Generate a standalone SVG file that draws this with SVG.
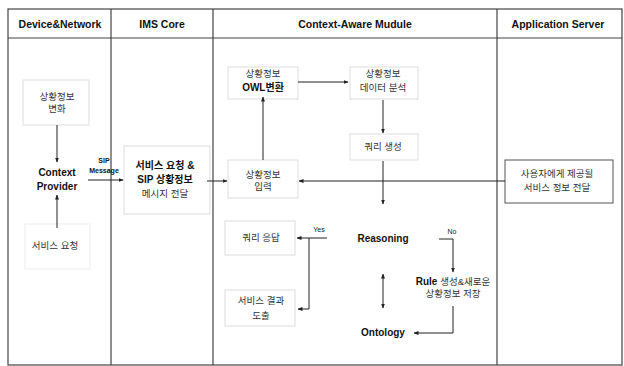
<svg xmlns="http://www.w3.org/2000/svg" width="624" height="366" viewBox="0 0 624 366">
<defs>
<marker id="ah" viewBox="0 0 10 10" refX="9" refY="5" markerWidth="5" markerHeight="5" orient="auto-start-reverse">
<path d="M0,1 L10,5 L0,9 z" fill="#222"/>
</marker>
<style>
.grid{stroke:#444;stroke-width:1.2;fill:none}
.hd{font-family:"Liberation Sans","Noto Sans CJK KR",sans-serif;font-weight:bold;font-size:10.5px;fill:#111;text-anchor:middle}
.kr{font-family:"Liberation Sans","Noto Sans CJK KR",sans-serif;font-size:9.5px;fill:#333;text-anchor:middle}
.en{font-family:"Liberation Sans","Noto Sans CJK KR",sans-serif;font-weight:bold;font-size:10px;fill:#111;text-anchor:middle}
.sm{font-family:"Liberation Sans","Noto Sans CJK KR",sans-serif;font-size:7px;fill:#222;text-anchor:middle}
.smb{font-family:"Liberation Sans","Noto Sans CJK KR",sans-serif;font-weight:bold;font-size:7px;fill:#111;text-anchor:middle}
.box{fill:#fff;stroke:#ddd;stroke-width:1}
.cn{stroke:#222;stroke-width:1;fill:none}
.ar{stroke:#222;stroke-width:1;fill:none;marker-end:url(#ah)}
</style>
</defs>
<rect width="624" height="366" fill="#fff"/>
<g id="table">
<rect class="grid" x="8" y="9" width="614" height="356"/>
<line class="grid" x1="8" y1="38" x2="622" y2="38"/>
<line class="grid" x1="111" y1="9" x2="111" y2="365"/>
<line class="grid" x1="213" y1="9" x2="213" y2="365"/>
<line class="grid" x1="497" y1="9" x2="497" y2="365"/>
<text class="hd" x="60" y="28">Device&amp;Network</text>
<text class="hd" x="162" y="28">IMS Core</text>
<text class="hd" x="355" y="28">Context-Aware Mudule</text>
<text class="hd" x="558" y="28">Application Server</text>
</g>
<g id="n-change">
<rect class="box" x="23" y="80" width="66" height="45"/>
<text class="kr" x="57" y="100">상황정보</text>
<text class="kr" x="57" y="112">변화</text>
</g>
<g id="n-provider">
<text class="en" x="57" y="176">Context</text>
<text class="en" x="57" y="190">Provider</text>
</g>
<g id="n-request">
<rect class="box" x="25" y="224" width="65" height="45" stroke-opacity="0.5"/>
<text class="kr" x="55" y="249">서비스 요청</text>
</g>
<g id="n-ims">
<rect class="box" x="124" y="146" width="86" height="68"/>
<text class="en" x="165" y="169">서비스 요청 &amp;</text>
<text class="en" x="165" y="183">SIP 상황정보</text>
<text class="kr" x="165" y="197">메시지 전달</text>
</g>
<g id="n-input">
<rect class="box" x="228" y="160" width="70" height="38"/>
<text class="kr" x="263" y="178">상황정보</text>
<text class="kr" x="263" y="190">입력</text>
</g>
<g id="n-owl">
<rect class="box" x="228" y="67" width="70" height="32"/>
<text class="kr" x="263" y="77">상황정보</text>
<text class="en" x="263" y="91">OWL변환</text>
</g>
<g id="n-analysis">
<rect class="box" x="350" y="67" width="68" height="32"/>
<text class="kr" x="383" y="77">상황정보</text>
<text class="kr" x="383" y="91">데이터 분석</text>
</g>
<g id="n-query">
<rect class="box" x="350" y="134" width="68" height="26"/>
<text class="kr" x="383" y="150">쿼리 생성</text>
</g>
<g id="n-as">
<rect x="505" y="160" width="108" height="43" fill="#fff" stroke="#555" stroke-width="1"/>
<text class="kr" x="557" y="177">사용자에게 제공될</text>
<text class="kr" x="557" y="191">서비스 정보 전달</text>
</g>
<g id="n-reasoning">
<text class="en" x="383" y="242">Reasoning</text>
</g>
<g id="n-response">
<rect class="box" x="225" y="221" width="70" height="34"/>
<text class="kr" x="261" y="241">쿼리 응답</text>
</g>
<g id="n-result">
<rect class="box" x="225" y="290" width="70" height="36"/>
<text class="kr" x="261" y="304">서비스 결과</text>
<text class="kr" x="261" y="319">도출</text>
</g>
<g id="n-rule">
<text class="en" x="453" y="285">Rule <tspan font-weight="normal" fill="#333" font-size="9.5px">생성&amp;새로운</tspan></text>
<text class="kr" x="453" y="297">상황정보 저장</text>
</g>
<g id="n-ontology">
<text class="en" x="383" y="336">Ontology</text>
</g>
<g id="connectors">
<line class="ar" x1="57" y1="125" x2="57" y2="162"/>
<line class="ar" x1="57" y1="228" x2="57" y2="195"/>
<line class="ar" x1="88" y1="180" x2="123" y2="180"/>
<text class="smb" x="104" y="163">SIP</text>
<text class="smb" x="104" y="173">Message</text>
<line class="ar" x1="207" y1="181" x2="227" y2="181"/>
<line class="ar" x1="263" y1="160" x2="263" y2="97"/>
<line class="ar" x1="298" y1="82" x2="348" y2="82"/>
<line class="ar" x1="383" y1="100" x2="383" y2="133"/>
<line class="ar" x1="383" y1="161" x2="383" y2="204"/>
<line class="ar" x1="505" y1="181" x2="299" y2="181"/>
<line class="ar" x1="327" y1="238" x2="297" y2="238"/>
<polyline class="ar" points="309,238 309,309 298,309"/>
<text class="sm" x="319" y="232">Yes</text>
<line class="ar" x1="383" y1="274" x2="383" y2="308" marker-start="url(#ah)"/>
<polyline class="ar" points="439,239 453,239 453,272"/>
<text class="sm" x="452" y="234">No</text>
<polyline class="ar" points="453,306 453,333 414,333"/>
</g>
</svg>
